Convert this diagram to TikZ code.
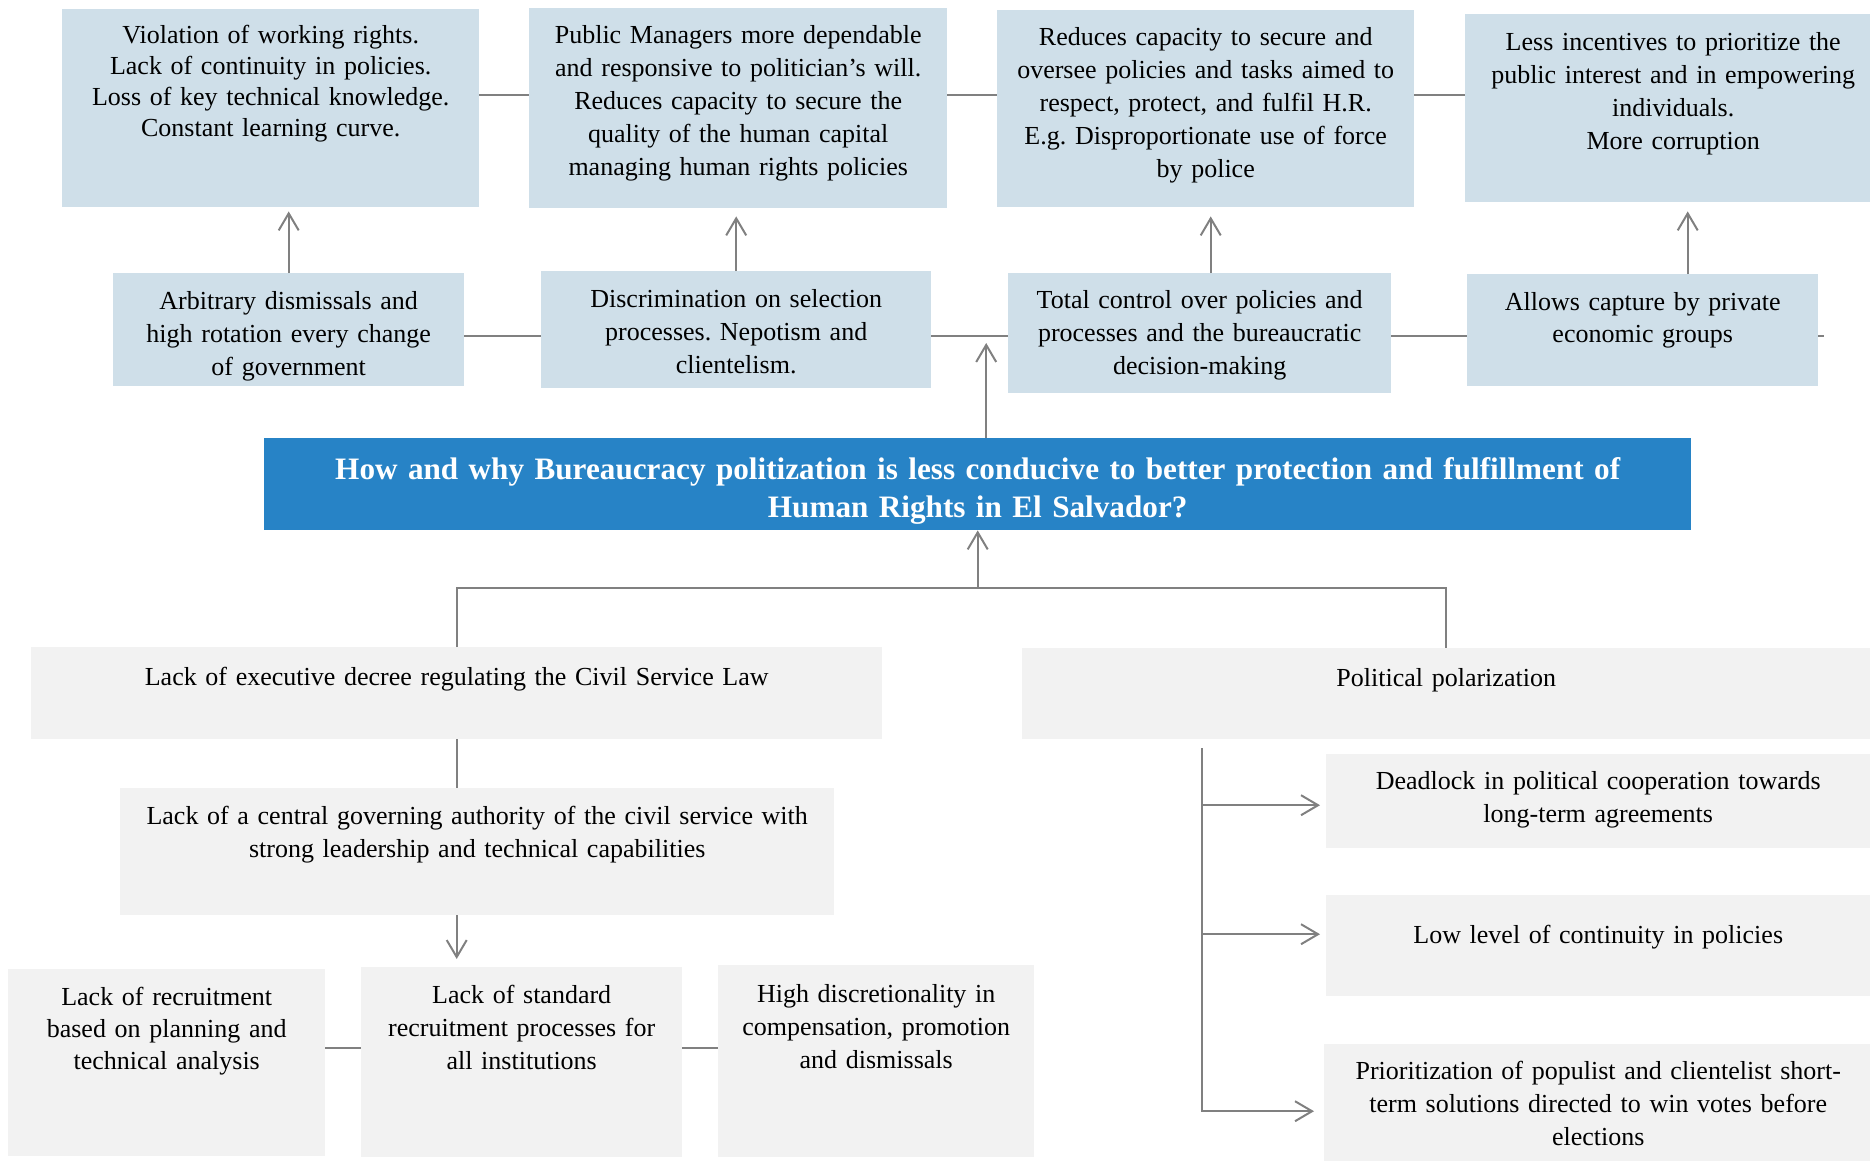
\documentclass[tikz,border=0pt]{standalone}
\usepackage{fontspec}
\setmainfont{Liberation Serif}
\usepackage{tikz}
\usetikzlibrary{arrows.meta, positioning, calc}
\definecolor{EffectBlue}{HTML}{CFDFE9}
\definecolor{QuestionBlue}{HTML}{2783C6}
\definecolor{CauseGray}{HTML}{F2F2F2}
\definecolor{LinkGray}{HTML}{808080}
\frenchspacing

\begin{document}
\begin{tikzpicture}[x=1pt, y=-1pt,
  box/.style={anchor=north west, inner sep=0pt, align=center, text=black,
    font=\fontsize{26}{33}\selectfont},
  dims/.style n args={3}{text width=#1pt, text height=#2pt, text depth=#3pt},
  effect/.style={box, fill=EffectBlue},
  cause/.style={box, fill=CauseGray},
  question/.style={box, fill=QuestionBlue, text=white,
    font=\fontsize{31.2}{38}\selectfont\bfseries},
  link/.style={draw=LinkGray, line width=2pt},
  arr/.style={link, -{Straight Barb[length=17pt, width=20pt, line width=2pt]}}
]
\useasboundingbox (0,0) rectangle (1870,1160);

% Effects
\node[effect, dims={417}{34}{164}, font=\fontsize{26}{31}\selectfont] (a1) at (62,9)
  {Violation of working rights.\\ Lack of continuity in policies.\\ Loss of key technical knowledge.\\ Constant learning curve.};
\node[effect, dims={418}{35}{165}] (a2) at (529,8)
  {Public Managers more dependable\\ and responsive to politician's will.\\ Reduces capacity to secure the\\ quality of the human capital\\ managing human rights policies};
\node[effect, dims={417}{35}{162}] (a3) at (997,10)
  {Reduces capacity to secure and\\ oversee policies and tasks aimed to\\ respect, protect, and fulfil H.R.\\ E.g. Disproportionate use of force\\ by police};
\node[effect, dims={416}{36}{152}] (a4) at (1465,14)
  {Less incentives to prioritize the\\ public interest and in empowering\\ individuals.\\ More corruption};

\node[effect, dims={351}{36}{77}] (b1) at (113,273)
  {Arbitrary dismissals and\\ high rotation every change\\ of government};
\node[effect, dims={390}{36}{81}] (b2) at (541,271)
  {Discrimination on selection\\ processes. Nepotism and\\ clientelism.};
\node[effect, dims={383}{35}{85}] (b3) at (1008,273)
  {Total control over policies and\\ processes and the bureaucratic\\ decision-making};
\node[effect, dims={351}{36}{76}, font=\fontsize{26}{32}\selectfont] (b4) at (1467,274)
  {Allows capture by private\\ economic groups};

% Question
\node[question, dims={1427}{41}{51}] (q) at (264,438)
  {How and why Bureaucracy politization is less conducive to better protection and fulfillment of\\ Human Rights in El Salvador?};

% Causes
\node[cause, dims={851}{38}{54}] (c1) at (31,647)
  {Lack of executive decree regulating the Civil Service Law};
\node[cause, dims={848}{38}{53}] (c2) at (1022,648)
  {Political polarization};
\node[cause, dims={714}{36}{91}] (e) at (120,788)
  {Lack of a central governing authority of the civil service with\\ strong leadership and technical capabilities};
\node[cause, dims={317}{36}{151}, font=\fontsize{26}{32}\selectfont] (f1) at (8,969)
  {Lack of recruitment\\ based on planning and\\ technical analysis};
\node[cause, dims={321}{36}{154}] (f2) at (361,967)
  {Lack of standard\\ recruitment processes for\\ all institutions};
\node[cause, dims={316}{37}{155}] (f3) at (718,965)
  {High discretionality in\\ compensation, promotion\\ and dismissals};
\node[cause, dims={544}{35}{59}] (d1) at (1326,754)
  {Deadlock in political cooperation towards\\ long-term agreements};
\node[cause, dims={544}{48}{53}] (d2) at (1326,895)
  {Low level of continuity in policies};
\node[cause, dims={548}{35}{101}] (d3) at (1324,1044)
  {Prioritization of populist and clientelist short-\\ term solutions directed to win votes before\\ elections};

% Links between effects
\coordinate (rowA) at (0,95);
\coordinate (rowB) at (0,336);
\draw[link] (a1.east |- rowA) -- (a2.west |- rowA);
\draw[link] (a2.east |- rowA) -- (a3.west |- rowA);
\draw[link] (a3.east |- rowA) -- (a4.west |- rowA);
\draw[link] (b1.east |- rowB) -- (b2.west |- rowB);
\draw[link] (b2.east |- rowB) -- (b3.west |- rowB);
\draw[link] (b3.east |- rowB) -- (b4.west |- rowB);
\draw[link] (b4.east |- rowB) -- ++(6,0);

\draw[arr, shorten >=4pt] (b1.north) -- (b1.north |- a1.south);
\draw[arr, shorten >=8pt] (b2.north) -- (b2.north |- a2.south);
\draw[arr, shorten >=9pt] ([xshift=11pt]b3.north) -- ([xshift=11pt]b3.north |- a3.south);
\draw[arr, shorten >=9pt] ([xshift=45pt]b4.north) -- ([xshift=45pt]b4.north |- a4.south);
\draw[arr, shorten >=7pt] ([xshift=8.5pt]q.north) -- ([xshift=8.5pt]q.north |- rowB);

% Causes tree
\coordinate (fork) at ($(q.south)+(0,58)$);
\draw[arr] (fork) -- (q.south);
\draw[link] (c1.north) |- (fork) -| (c2.north);
\draw[link] (c1.south) -- (c1.south |- e.north);
\draw[arr, shorten >=8pt] (c1.south |- e.south) -- (c1.south |- f2.north);
\coordinate (rowF) at (0,1048);
\draw[link] (f1.east |- rowF) -- (f2.west |- rowF);
\draw[link] (f2.east |- rowF) -- (f3.west |- rowF);

\coordinate (trunk) at ($(c2.south west)+(180,9)$);
\coordinate (d1in) at ($(d1.west)+(0,4)$);
\coordinate (d2in) at ($(d2.west)+(0,-11.5)$);
\coordinate (d3in) at ($(d3.west)+(0,-1)$);
\draw[arr, shorten >=10pt] (trunk) |- (d3in);
\draw[arr, shorten >=6pt] (trunk |- d1in) -- (d1in);
\draw[arr, shorten >=6pt] (trunk |- d2in) -- (d2in);

\end{tikzpicture}
\end{document}
